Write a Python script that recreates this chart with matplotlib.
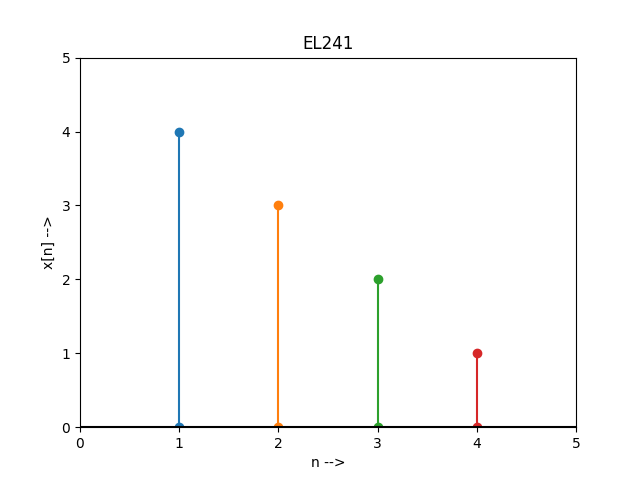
import matplotlib
matplotlib.use('Agg')
import matplotlib.pyplot as plt

n = [1, 2, 3, 4]
x = [4, 3, 2, 1]

plt.figure(figsize=(6.4, 4.8), dpi=100)
for i in range(len(n)):
    plt.plot([n[i], n[i]], [0, x[i]], marker='o')
plt.axhline(0, color='black')
plt.xlim(0, 5)
plt.ylim(0, 5)
plt.xlabel('n -->')
plt.ylabel('x[n] -->')
plt.title('EL241')
plt.savefig('out.png')
